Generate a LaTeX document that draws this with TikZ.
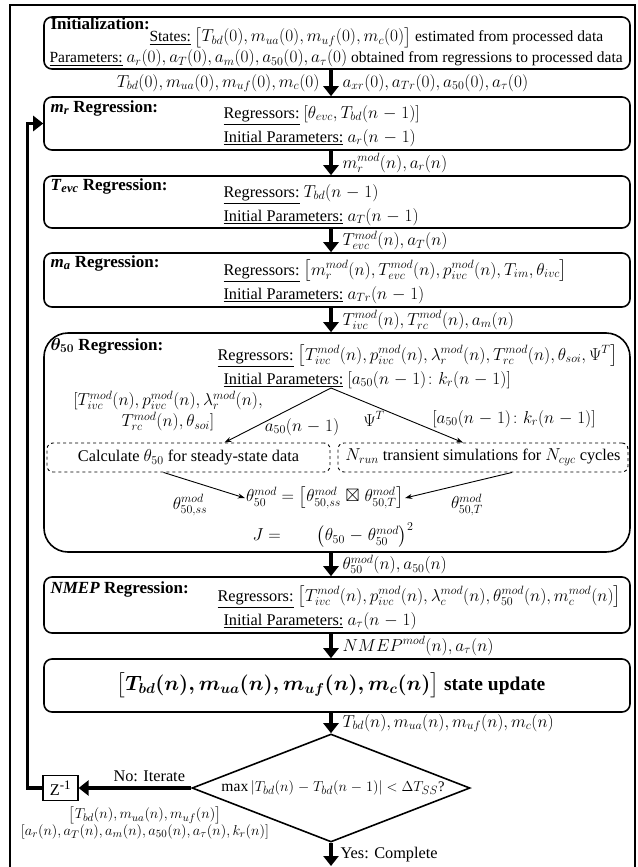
\documentclass[tikz,border=0pt]{standalone}
\usepackage{amsmath,amssymb}
\usepackage{fontspec}
\setmainfont{Liberation Serif}
\usetikzlibrary{arrows.meta,shapes.geometric,positioning,calc}

% math set a little larger than the text around it
\DeclareMathSizes{16.3}{18}{13}{10}
\DeclareMathSizes{15.5}{16.8}{12.5}{9.5}
\DeclareMathSizes{14.6}{15.6}{11.5}{9}
\DeclareMathSizes{14.5}{16}{11.5}{9}
\DeclareMathSizes{13.5}{14.2}{10.5}{8}
\DeclareMathSizes{17}{18.5}{12.5}{10}
\DeclareMathSizes{19.5}{21}{15}{11}
\medmuskip=5mu plus 2mu minus 2mu

\newcommand{\updtext}{\fontsize{19.5}{22}\selectfont$\boldsymbol{\big[T_{bd}(n), m_{ua}(n), m_{uf}(n), m_c(n)\big]}$ \textbf{state update}}

\tikzset{
  stagebox/.style={draw,line width=1.6pt,rounded corners=8pt,minimum width=586pt,inner sep=0pt},
  simbox/.style={draw,dashed,line width=.9pt,rounded corners=6pt,inner sep=0pt},
  flowarrow/.style={-{Triangle[width=15pt,length=10pt]},line width=4.5pt},
  thinarrow/.style={-{Stealth[length=7pt,width=5pt]},line width=.9pt},
  smalltext/.style={font=\fontsize{14.5}{16}\selectfont},
  headtext/.style={anchor=base west,font=\fontsize{17}{19}\selectfont\bfseries},
  inittext/.style={anchor=base west,font=\fontsize{15.5}{18}\selectfont},
}

\begin{document}
\begin{tikzpicture}[x=1pt,y=-1pt,font=\fontsize{16.3}{18}\selectfont]
  \useasboundingbox (0,0) rectangle (637,867);
  \draw[line width=1.6pt] (10,867) -- (10,5) -- (635,5) -- (635,867);

  % regression stages
  \node[stagebox,minimum height=52pt] (init) at (337,43) {};
  \node[stagebox,minimum height=53pt] (mr) at (337,123.5) {};
  \node[stagebox,minimum height=52pt] (tevc) at (337,202) {};
  \node[stagebox,minimum height=54pt] (ma) at (337,280) {};
  \node[stagebox,minimum height=219pt,rounded corners=24pt] (theta) at (337,442.5) {};
  \node[stagebox,minimum height=56pt] (nmep) at (337,605) {};
  \node[stagebox,minimum height=53pt] (upd) at (337,685.5) {\hspace*{-12pt}\updtext};
  \node[diamond,draw,line width=1.6pt,minimum width=278pt,minimum height=108pt,inner sep=0pt] (chk) at (331,788) {\makebox[0pt]{\fontsize{14.6}{17}\selectfont\hspace*{4pt}$\max|T_{bd}(n) - T_{bd}(n-1)| < \Delta T_{SS}$?}};
  \node[draw,line width=1.2pt,minimum width=35pt,minimum height=25pt,inner sep=0pt] (zinv) at (60.5,788) {Z\textsuperscript{-1}};
  \coordinate (done) at (331,866);

  % initialization
  \node[headtext] at (47,30) {Initialization:};
  \node[inittext] at (146,42) {\underline{States:}\ $\big[T_{bd}(0), m_{ua}(0), m_{uf}(0), m_c(0)\big]$ estimated from processed data};
  \node[inittext] at (46,63) {\underline{Parameters:} $a_r(0), a_T(0), a_m(0), a_{50}(0), a_\tau(0)$ obtained from regressions to processed data};

  % m_r
  \node[headtext] at (47,112) {\textit{m}\textsubscript{\textit{r}} Regression:};
  \node[anchor=base west] at (220,118) {\underline{Regressors:}\ $[\theta_{evc}, T_{bd}(n-1)]$};
  \node[anchor=base west] at (220,142) {\underline{Initial Parameters:} $a_r(n-1)$};

  % T_evc
  \node[headtext] at (47,190) {\textit{T}\textsubscript{\textit{evc}} Regression:};
  \node[anchor=base west] at (220,197) {\underline{Regressors:} $T_{bd}(n-1)$};
  \node[anchor=base west] at (220,221) {\underline{Initial Parameters:} $a_T(n-1)$};

  % m_a
  \node[headtext] at (47,267) {\textit{m}\textsubscript{\textit{a}} Regression:};
  \node[anchor=base west] at (220,275) {\underline{Regressors:} $\big[m_r^{mod}(n), T_{evc}^{mod}(n), p_{ivc}^{mod}(n), T_{im}, \theta_{ivc}\big]$};
  \node[anchor=base west] at (220,299) {\underline{Initial Parameters:} $a_{Tr}(n-1)$};

  % theta_50
  \node[headtext] at (47,350) {$\boldsymbol{\theta_{50}}$ Regression:};
  \node[anchor=base west] at (214,360) {\underline{Regressors:}\ $\big[T_{ivc}^{mod}(n), p_{ivc}^{mod}(n), \lambda_r^{mod}(n), T_{rc}^{mod}(n), \theta_{soi}, \Psi^T\big]$};
  \node[anchor=base west] at (220,384) {\underline{Initial Parameters:} $[a_{50}(n-1)\colon k_r(n-1)]$};
  \coordinate (split) at (331,388);
  \node[simbox,minimum width=283pt,minimum height=29pt] (ssbox) at (188.5,457.5) {Calculate $\theta_{50}$ for steady-state data};
  \node[simbox,minimum width=290pt,minimum height=29pt] (trbox) at (483,457.5) {$N_{run}$ transient simulations for $N_{cyc}$ cycles};
  \draw[thinarrow] (split) -- ($(ssbox.north)+(36,0)$);
  \draw[thinarrow] (split) -- ($(trbox.north)+(-20,0)$);
  \node[smalltext,align=center] at (168,411) {$[T_{ivc}^{mod}(n), p_{ivc}^{mod}(n), \lambda_r^{mod}(n),$\\[1pt]$T_{rc}^{mod}(n), \theta_{soi}]$};
  \node[smalltext] at (302,427) {$a_{50}(n-1)$};
  \node[smalltext] at (374,419) {$\Psi^T$};
  \node[smalltext] at (514,419) {$[a_{50}(n-1)\colon k_r(n-1)]$};
  \node[inner sep=1pt] (thmod) at (325,498) {$\theta_{50}^{mod} = \big[\theta_{50,ss}^{mod} \boxtimes \theta_{50,T}^{mod}\big]$};
  \draw[thinarrow] ($(ssbox.south)+(-25,0)$) -- (thmod.west);
  \draw[thinarrow] ($(trbox.south)+(29,0)$) -- (thmod.east);
  \node[smalltext] at (190,505) {$\theta_{50,ss}^{mod}$};
  \node[smalltext] at (467,505) {$\theta_{50,T}^{mod}$};
  \node[inner sep=1pt] (cost) at (333,535) {$J =$\hspace{2.2em}$\big(\theta_{50} - \theta_{50}^{mod}\big)^2$};

  % NMEP
  \node[headtext] at (47,593) {\textit{NMEP} Regression:};
  \node[anchor=base west] at (214,601) {\underline{Regressors:}\ $\big[T_{ivc}^{mod}(n), p_{ivc}^{mod}(n), \lambda_c^{mod}(n), \theta_{50}^{mod}(n), m_c^{mod}(n)\big]$};
  \node[anchor=base west] at (220,625) {\underline{Initial Parameters:} $a_\tau(n-1)$};

  % flow between stages
  \draw[flowarrow] ($(init.south)+(-6,0)$) -- ($(mr.north)+(-6,0)$) node[midway,left=6pt] {$T_{bd}(0), m_{ua}(0), m_{uf}(0), m_c(0)$} node[midway,right=6pt] {$a_{xr}(0), a_{Tr}(0), a_{50}(0), a_\tau(0)$};
  \draw[flowarrow] ($(mr.south)+(-6,0)$) -- ($(tevc.north)+(-6,0)$) node[midway,right=6pt] {$m_r^{mod}(n), a_r(n)$};
  \draw[flowarrow] ($(tevc.south)+(-6,0)$) -- ($(ma.north)+(-6,0)$) node[midway,right=6pt] {$T_{evc}^{mod}(n), a_T(n)$};
  \draw[flowarrow] ($(ma.south)+(-6,0)$) -- ($(theta.north)+(-6,0)$) node[midway,right=6pt] {$T_{ivc}^{mod}(n), T_{rc}^{mod}(n), a_m(n)$};
  \draw[flowarrow] ($(theta.south)+(-6,0)$) -- ($(nmep.north)+(-6,0)$) node[midway,right=6pt] {$\theta_{50}^{mod}(n), a_{50}(n)$};
  \draw[flowarrow] ($(nmep.south)+(-6,0)$) -- ($(upd.north)+(-6,0)$) node[midway,right=6pt] {$NMEP^{mod}(n), a_\tau(n)$};
  \draw[flowarrow] ($(upd.south)+(-6,0)$) -- (chk) node[midway,right=6pt] {$T_{bd}(n), m_{ua}(n), m_{uf}(n), m_c(n)$};
  \draw[flowarrow] (chk) -- (done) node[midway,right=4pt] {Yes: Complete};

  % iterate back
  \draw[flowarrow] (chk) -- (zinv);
  \node[anchor=south east,inner sep=1pt] (noit) at ($(chk.west)+(-5,-5)$) {No: Iterate};
  \draw[flowarrow,line width=3.5pt] (zinv.west) -- ++(-15,0) |- (mr.west);
  \node[align=center,font=\fontsize{13.5}{15}\selectfont] at (145,823) {$\big[T_{bd}(n), m_{ua}(n), m_{uf}(n)\big]$\\$[a_r(n), a_T(n), a_m(n), a_{50}(n), a_\tau(n), k_r(n)]$};
\end{tikzpicture}
\end{document}
